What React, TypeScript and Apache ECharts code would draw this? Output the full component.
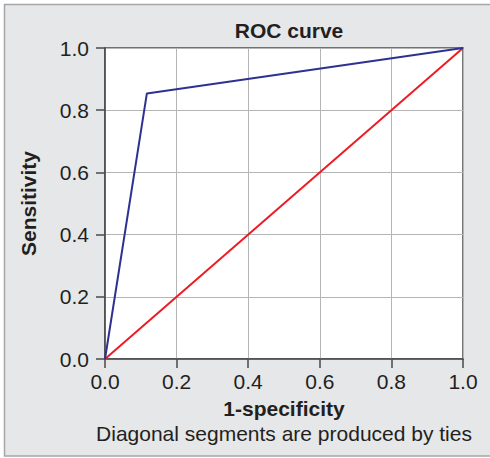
import React, { useEffect, useRef } from "react";
import * as echarts from "echarts";

const rocX = [0, 0.117, 1];
const rocY = [0, 0.854, 1];
const refX = [0, 1];
const refY = [0, 1];
const titleText = "ROC curve";
const xName = "1-specificity";
const yName = "Sensitivity";
const footnote = "Diagonal segments are produced by ties";

const FONT = "'Liberation Sans', Arial, Helvetica, sans-serif";
const FS = 21;

export default function App() {
  const ref = useRef<HTMLDivElement>(null);
  useEffect(() => {
    if (!ref.current) return;
    const chart = echarts.init(ref.current, undefined, { renderer: "svg" });
    const axisCommon = {
      type: "value",
      min: 0,
      max: 1,
      interval: 0.2,
      axisLine: { show: true, lineStyle: { color: "#4a4a4a", width: 1.5 } },
      axisTick: { show: true, length: 9, lineStyle: { color: "#4a4a4a", width: 1.5 } },
      splitLine: { show: true, lineStyle: { color: "#b5b5b5", width: 1 } },
      axisLabel: {
        color: "#231f20",
        fontSize: FS,
        fontFamily: FONT,
        formatter: (v: number) => v.toFixed(1),
      },
      nameLocation: "middle",
      nameTextStyle: { color: "#231f20", fontSize: FS, fontWeight: "bold", fontFamily: FONT },
    };
    chart.setOption({
      animation: false,
      backgroundColor: "#ffffff",
      graphic: [
        {
          type: "rect",
          z: -10,
          silent: true,
          shape: { x: 4.5, y: 4.5, width: 490, height: 451.5 },
          style: { fill: "#e6e7e9", stroke: "#a6a6a6", lineWidth: 1.5 },
        },
        {
          type: "text",
          z: 10,
          x: 284,
          y: 433,
          style: {
            text: footnote,
            fill: "#231f20",
            font: `${FS}px ${FONT}`,
            textAlign: "center",
            textVerticalAlign: "middle",
          },
        },
      ],
      title: {
        text: titleText,
        left: 284,
        top: 15,
        textAlign: "center",
        textStyle: { color: "#231f20", fontSize: FS, fontWeight: "bold", fontFamily: FONT },
      },
      grid: {
        left: 105,
        top: 48,
        right: 27,
        bottom: 99,
        show: true,
        backgroundColor: "#ffffff",
        borderColor: "#4a4a4a",
        borderWidth: 1.5,
        z: 0,
      },
      xAxis: {
        ...axisCommon,
        name: xName,
        nameGap: 39,
        axisLabel: { ...axisCommon.axisLabel, margin: 12 },
      },
      yAxis: {
        ...axisCommon,
        name: yName,
        nameGap: 66,
        axisLabel: { ...axisCommon.axisLabel, margin: 16 },
      },
      series: [
        {
          type: "line",
          data: refX.map((x, i) => [x, refY[i]]),
          symbol: "none",
          lineStyle: { color: "#ed1c24", width: 2 },
          z: 3,
        },
        {
          type: "line",
          data: rocX.map((x, i) => [x, rocY[i]]),
          symbol: "none",
          lineStyle: { color: "#2e3192", width: 2 },
          z: 4,
        },
      ],
    });
    return () => chart.dispose();
  }, []);
  return (
    <div
      ref={ref}
      style={{ position: "fixed", left: 0, top: 0, width: 490, height: 458 }}
    />
  );
}
